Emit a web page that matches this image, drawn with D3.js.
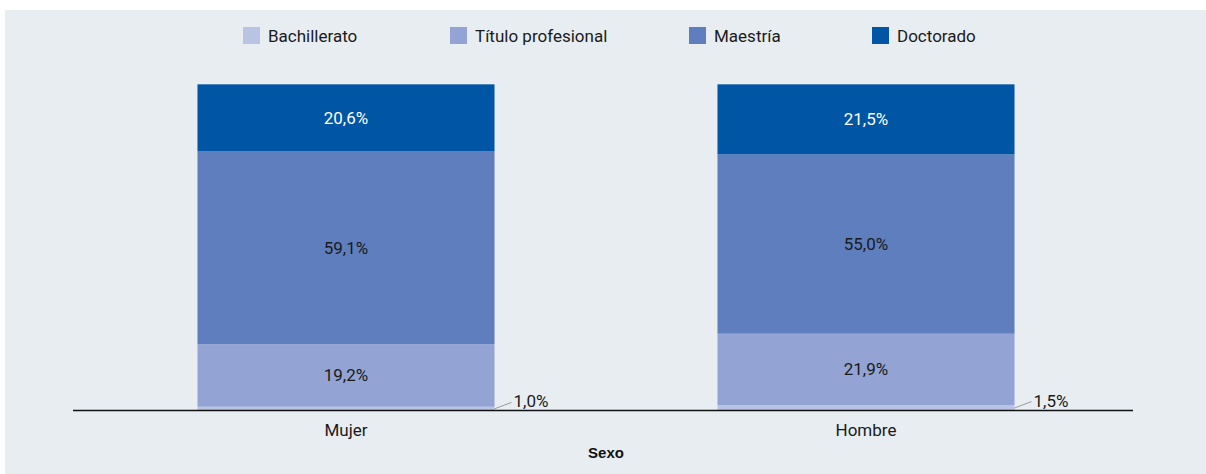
<!DOCTYPE html>
<html>
<head>
<meta charset="utf-8">
<script src="https://cdn.jsdelivr.net/npm/d3@7"></script>
<style>
  body { margin: 0; background: #ffffff; }
  svg { display: block; }
</style>
</head>
<body>
<div id="chart"></div>
<script>
var categories = ["Mujer", "Hombre"];
var seriesNames = ["Bachillerato", "Título profesional", "Maestría", "Doctorado"];
var bachillerato = [1.0, 1.5];
var tituloProfesional = [19.2, 21.9];
var maestria = [59.1, 55.0];
var doctorado = [20.6, 21.5];
var colors = ["#b9c3e4", "#93a4d4", "#5e7ebe", "#0055a4"];
var axisTitle = "Sexo";

function base(){
    var w = 1206;
    var h = 474;

    var data = categories.map(function(c, i) {
        return {
            cat: c,
            "Bachillerato": bachillerato[i],
            "Título profesional": tituloProfesional[i],
            "Maestría": maestria[i],
            "Doctorado": doctorado[i]
        };
    });

    var series = d3.stack().keys(seriesNames)(data);

    var xScale = d3.scaleBand()
        .domain(categories)
        .range([86, 1126])
        .paddingInner(0.4288)
        .paddingOuter(0.2144);

    // 100% maps to 84 -> 410
    var yScale = d3.scaleLinear()
        .domain([0, 100])
        .range([410, 84]);

    var svg = d3.select("#chart")
        .append("svg")
        .attr("width", w)
        .attr("height", h);

    // background panel
    svg.append("rect")
        .attr("x", 5).attr("y", 10)
        .attr("width", w - 5).attr("height", h - 10)
        .attr("fill", "#e8edf2");

    var groups = svg.selectAll("g.series")
        .data(series)
        .enter()
        .append("g")
        .attr("class", "series")
        .style("fill", function(d, i) { return colors[i]; });

    groups.selectAll("rect")
        .data(function(d) { return d; })
        .enter()
        .append("rect")
        .attr("x", function(d) { return xScale(d.data.cat); })
        .attr("y", function(d) { return yScale(d[1]); })
        .attr("height", function(d) { return yScale(d[0]) - yScale(d[1]); })
        .attr("width", xScale.bandwidth());

    // value labels
    series.forEach(function(s, si) {
        s.forEach(function(d) {
            var v = d[1] - d[0];
            var txt = d3.format(".1f")(v).replace(".", ",") + "%";
            var x0 = xScale(d.data.cat);
            var bw = xScale.bandwidth();
            if (v < 5) {
                var ly = (yScale(d[0]) + yScale(d[1])) / 2;
                svg.append("line")
                    .attr("x1", x0 + bw).attr("y1", ly + 0.5)
                    .attr("x2", x0 + bw + 17).attr("y2", ly - 6)
                    .attr("stroke", "#9a9a9a")
                    .attr("stroke-width", 1);
                svg.append("text")
                    .attr("x", x0 + bw + 19)
                    .attr("y", ly - 1)
                    .attr("font-family", "Roboto, sans-serif")
                    .attr("font-size", 17)
                    .attr("fill", "#1a1a1a")
                    .text(txt);
            } else {
                svg.append("text")
                    .attr("x", x0 + bw / 2)
                    .attr("y", (yScale(d[0]) + yScale(d[1])) / 2 + 6)
                    .attr("text-anchor", "middle")
                    .attr("font-family", "Roboto, sans-serif")
                    .attr("font-size", 17)
                    .attr("fill", si == 3 ? "#ffffff" : "#1a1a1a")
                    .text(txt);
            }
        });
    });

    // baseline
    svg.append("line")
        .attr("x1", 73).attr("x2", 1133)
        .attr("y1", 410.5).attr("y2", 410.5)
        .attr("stroke", "#111")
        .attr("stroke-width", 1.3);

    // category axis labels
    var xAxis = d3.axisBottom(xScale).tickSize(0).tickPadding(14);
    var ax = svg.append("g")
        .attr("transform", "translate(0,410)")
        .call(xAxis);
    ax.select(".domain").remove();
    ax.selectAll("text")
        .attr("font-family", "Roboto, sans-serif")
        .attr("font-size", 17)
        .attr("fill", "#1a1a1a");

    svg.append("text")
        .attr("x", 606).attr("y", 458)
        .attr("text-anchor", "middle")
        .attr("font-family", "Liberation Sans, Arial, sans-serif")
        .attr("font-weight", "bold")
        .attr("font-size", 15)
        .attr("fill", "#111")
        .text(axisTitle);

    // legend
    var legendX = [243, 450, 689, 872];
    var legend = svg.selectAll("g.legend")
        .data(seriesNames)
        .enter()
        .append("g")
        .attr("class", "legend")
        .attr("transform", function(d, i) { return "translate(" + legendX[i] + ",27)"; });
    legend.append("rect")
        .attr("width", 17).attr("height", 17)
        .attr("fill", function(d, i) { return colors[i]; });
    legend.append("text")
        .attr("x", 25).attr("y", 14.5)
        .attr("font-family", "Roboto, sans-serif")
        .attr("font-size", 17)
        .attr("fill", "#1a1a1a")
        .text(function(d) { return d; });
}

window.onload = base;
</script>
</body>
</html>
